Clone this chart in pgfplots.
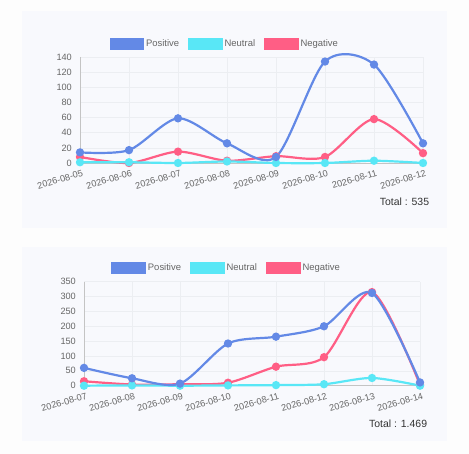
\documentclass[border=0pt]{standalone}
\usepackage{pgfplots}
\pgfplotsset{compat=1.18}
\usepackage{fontspec}
\setmainfont{Liberation Sans}
\definecolor{cpos}{HTML}{6389E6}
\definecolor{cneu}{HTML}{59E7F6}
\definecolor{cneg}{HTML}{FF5E85}
\definecolor{panel}{HTML}{F8F9FD}
\definecolor{pagec}{HTML}{FDFDFD}
\definecolor{gridc}{HTML}{ECEEF2}
\definecolor{axisc}{HTML}{C4C4C4}
\definecolor{tickc}{HTML}{666666}
\definecolor{totc}{HTML}{333333}

\pgfplotsset{
 mychart/.style={
  scale only axis, clip=false,
  xmin=0, xmax=7, xtick={0,...,7},
  axis x line*=bottom, axis y line*=left,
  axis line style={-, draw=axisc, line width=0.8bp},
  grid=major, major grid style={draw=gridc, line width=0.6bp},
  major tick length=0pt,
  tick label style={font=\fontsize{9.2}{10}\selectfont, text=tickc},
  /pgf/number format/assume math mode=true,
  xticklabel style={rotate=16, anchor=north east, inner sep=0pt, yshift=-7bp},
  yticklabel style={inner sep=0pt, xshift=-8bp},
  every axis plot/.append style={smooth, tension=0.48, line width=2.2bp, mark=*, mark size=3bp},
  reverse legend, legend columns=3,
  legend style={draw=none, fill=none, font=\fontsize{9.5}{11}\selectfont, text=tickc, anchor=center,
    /tikz/every even column/.append style={column sep=7bp}},
  legend image code/.code={\fill[#1, draw=none] (0bp,-5.8bp) rectangle (34.5bp,5.8bp);},
 }
}

\begin{document}
\begin{tikzpicture}
\fill[pagec] (0,0) rectangle (469bp,454bp);
\fill[panel] (22bp,226.3bp) rectangle (446.7bp,443bp);
\fill[panel] (22bp,13.3bp) rectangle (446.7bp,207.3bp);

\begin{axis}[mychart,
  at={(80bp,291bp)}, anchor=south west,
  width=343bp, height=106bp,
  ymin=0, ymax=140, ytick={0,20,...,140},
  xticklabels={2026-08-05,2026-08-06,2026-08-07,2026-08-08,2026-08-09,2026-08-10,2026-08-11,2026-08-12},
  legend style={at={(0.422,1.12)}},
]
\addplot[color=cneg] coordinates {(0,8) (1,0) (2,15) (3,3) (4,9) (5,8) (6,58) (7,13)};
\addlegendentry{Negative}
\addplot[color=cneu] coordinates {(0,1) (1,1) (2,0) (3,2) (4,0) (5,0) (6,3) (7,0)};
\addlegendentry{Neutral}
\addplot[color=cpos] coordinates {(0,14) (1,17) (2,59) (3,26) (4,8) (5,134) (6,130) (7,26)};
\addlegendentry{Positive}
\end{axis}
\node[anchor=base east, inner sep=0pt, font=\fontsize{10.5}{12}\selectfont, text=totc] at (429.3bp,248.5bp) {Total : 535};

\begin{axis}[mychart,
  at={(84bp,68.3bp)}, anchor=south west,
  width=336bp, height=104bp,
  ymin=0, ymax=350, ytick={0,50,...,350},
  xticklabels={2026-08-07,2026-08-08,2026-08-09,2026-08-10,2026-08-11,2026-08-12,2026-08-13,2026-08-14},
  legend style={at={(0.4246,1.129)}},
]
\addplot[color=cneg] coordinates {(0,15) (1,4) (2,5) (3,10) (4,64) (5,96) (6,315) (7,3)};
\addlegendentry{Negative}
\addplot[color=cneu] coordinates {(0,0) (1,1) (2,0) (3,1) (4,2) (5,5) (6,26) (7,0)};
\addlegendentry{Neutral}
\addplot[color=cpos] coordinates {(0,60) (1,25) (2,7) (3,142) (4,165) (5,200) (6,312) (7,11)};
\addlegendentry{Positive}
\end{axis}
\node[anchor=base east, inner sep=0pt, font=\fontsize{10.5}{12}\selectfont, text=totc] at (427.3bp,26.2bp) {Total : 1.469};
\end{tikzpicture}
\end{document}
